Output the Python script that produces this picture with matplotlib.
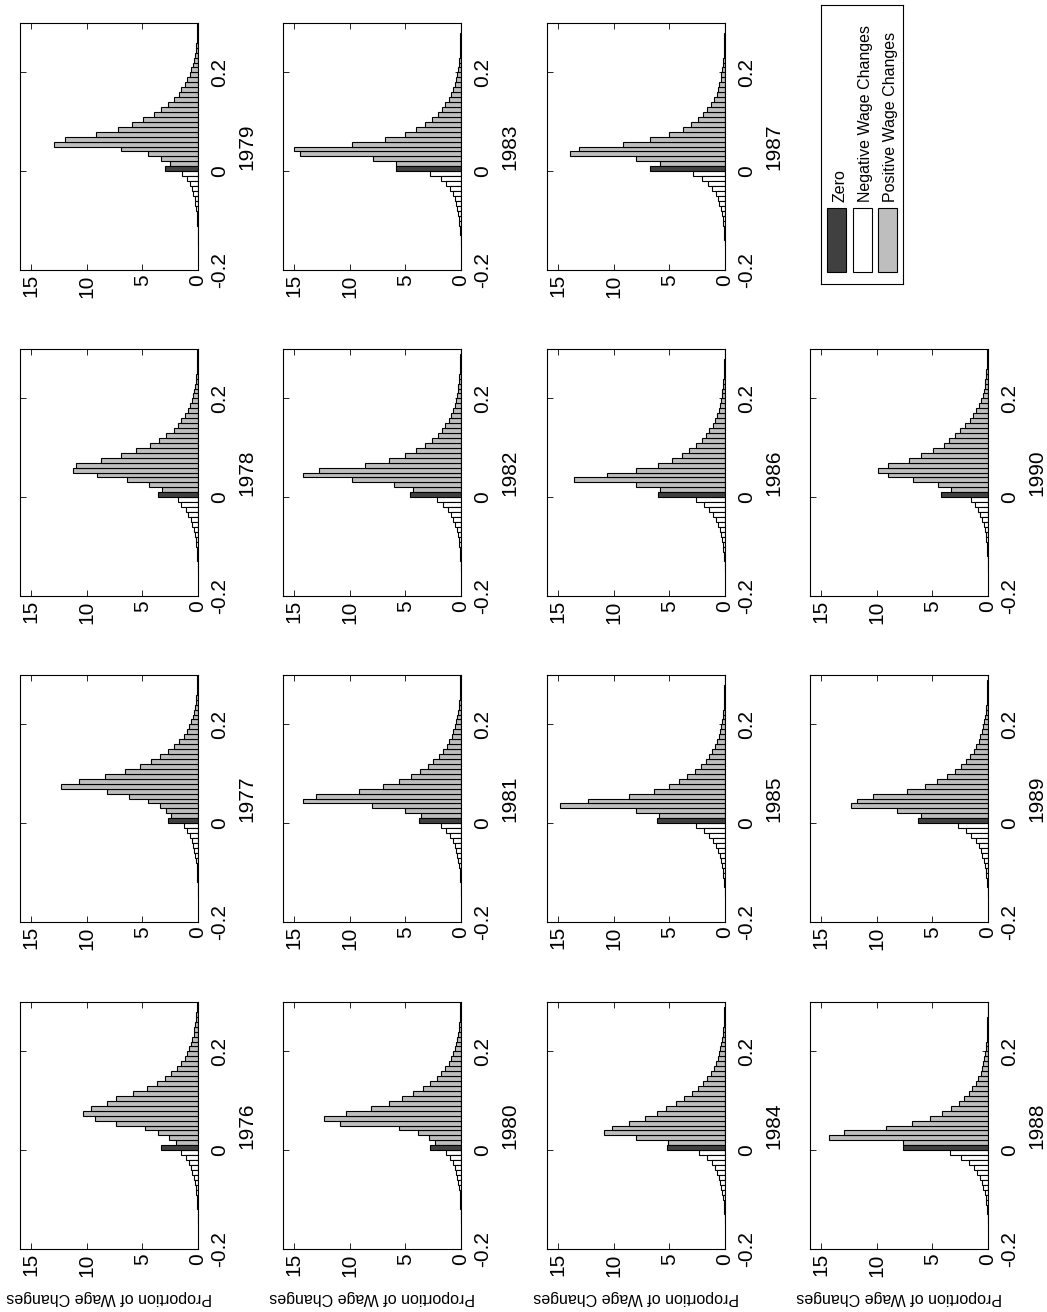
import numpy as np
import matplotlib
matplotlib.use('Agg')
import matplotlib.pyplot as plt
from matplotlib.patches import Rectangle

plt.rcParams['font.family'] = ['Liberation Sans', 'DejaVu Sans']

# share (%) of wage changes that are exactly zero
zero_share = {1976: 3.3, 1977: 2.7, 1978: 3.6, 1979: 3.0, 1980: 2.8, 1981: 3.8,
              1982: 4.6, 1983: 5.8, 1984: 5.2, 1985: 6.1, 1986: 6.0, 1987: 6.7,
              1988: 7.6, 1989: 6.3, 1990: 4.2}

# negative changes, bins from -0.01 outward
neg_share = {
    1976: [1.5, 1.1, 0.85, 0.65, 0.5, 0.38, 0.28, 0.2, 0.15, 0.11, 0.08, 0.06, 0.04, 0.03, 0.02],
    1977: [1.3, 1.0, 0.75, 0.55, 0.42, 0.32, 0.25, 0.18, 0.13, 0.1, 0.07, 0.05, 0.03, 0.02, 0.01],
    1978: [1.8, 1.5, 1.1, 0.9, 0.65, 0.5, 0.36, 0.27, 0.2, 0.15, 0.1, 0.07, 0.05, 0.03, 0.02],
    1979: [1.4, 1.0, 0.75, 0.57, 0.42, 0.3, 0.24, 0.18, 0.12, 0.09, 0.06, 0.04, 0.03, 0.02, 0.01],
    1980: [1.35, 1.0, 0.75, 0.57, 0.42, 0.32, 0.24, 0.18, 0.13, 0.1, 0.07, 0.05, 0.03, 0.02, 0.01],
    1981: [1.8, 1.35, 1.0, 0.75, 0.57, 0.43, 0.32, 0.24, 0.18, 0.13, 0.09, 0.06, 0.04, 0.03, 0.02],
    1982: [2.2, 1.6, 1.2, 0.9, 0.68, 0.5, 0.38, 0.28, 0.2, 0.15, 0.1, 0.07, 0.05, 0.03, 0.02],
    1983: [2.8, 1.8, 1.35, 1.0, 0.75, 0.57, 0.45, 0.36, 0.27, 0.2, 0.15, 0.1, 0.07, 0.04, 0.02],
    1984: [2.3, 1.6, 1.2, 0.9, 0.7, 0.55, 0.42, 0.32, 0.24, 0.18, 0.13, 0.09, 0.06, 0.04, 0.02],
    1985: [2.6, 1.9, 1.4, 1.05, 0.8, 0.63, 0.48, 0.36, 0.27, 0.2, 0.14, 0.1, 0.07, 0.04, 0.02],
    1986: [2.6, 1.9, 1.4, 1.05, 0.8, 0.6, 0.46, 0.35, 0.26, 0.19, 0.14, 0.1, 0.07, 0.04, 0.02],
    1987: [2.9, 2.1, 1.5, 1.15, 0.85, 0.66, 0.5, 0.4, 0.3, 0.22, 0.16, 0.12, 0.08, 0.05, 0.03],
    1988: [3.4, 2.4, 1.7, 1.3, 1.0, 0.75, 0.57, 0.42, 0.3, 0.22, 0.16, 0.11, 0.07, 0.04, 0.02],
    1989: [2.7, 2.0, 1.5, 1.1, 0.85, 0.65, 0.5, 0.38, 0.28, 0.2, 0.15, 0.1, 0.07, 0.04, 0.02],
    1990: [1.55, 1.2, 0.9, 0.7, 0.5, 0.38, 0.28, 0.2, 0.15, 0.11, 0.08, 0.05, 0.03, 0.02, 0.01],
}

# positive changes, bins from 0.01 up to 0.30
pos_share = {
    1976: [2.0, 2.6, 3.6, 4.8, 7.4, 9.3, 10.3, 9.6, 8.2, 7.4, 5.8, 4.6, 3.7, 3.0, 2.4,
           1.9, 1.5, 1.2, 1.0, 0.8, 0.65, 0.5, 0.4, 0.32, 0.25, 0.2, 0.15, 0.12, 0.1],
    1977: [2.4, 2.9, 3.4, 4.5, 6.2, 8.2, 12.3, 10.7, 8.4, 6.6, 5.2, 4.2, 3.4, 2.7, 2.2,
           1.7, 1.3, 1.0, 0.8, 0.6, 0.45, 0.35, 0.28, 0.2, 0.15, 0.12, 0.1, 0.08, 0.06],
    1978: [3.2, 4.4, 6.4, 9.1, 11.2, 11.0, 8.7, 6.9, 5.6, 4.3, 3.5, 2.9, 2.2, 1.8, 1.5,
           1.2, 0.9, 0.7, 0.55, 0.45, 0.35, 0.28, 0.22, 0.17, 0.13, 0.1, 0.08, 0.06, 0.05],
    1979: [2.5, 3.3, 4.5, 6.9, 12.9, 12.0, 9.2, 7.2, 5.9, 4.9, 4.0, 3.3, 2.7, 2.2, 1.7,
           1.5, 1.2, 1.0, 0.7, 0.6, 0.45, 0.35, 0.3, 0.2, 0.15, 0.12, 0.1, 0.08, 0.06],
    1980: [2.3, 2.9, 3.9, 5.6, 10.9, 12.3, 10.3, 8.1, 6.5, 5.3, 4.3, 3.4, 2.8, 2.2, 1.8,
           1.4, 1.1, 0.9, 0.7, 0.55, 0.45, 0.35, 0.28, 0.22, 0.17, 0.13, 0.1, 0.08, 0.06],
    1981: [3.6, 5.0, 8.0, 14.2, 13.0, 9.2, 7.0, 5.6, 4.5, 3.7, 3.0, 2.5, 2.0, 1.6, 1.3,
           1.05, 0.85, 0.7, 0.55, 0.45, 0.35, 0.28, 0.22, 0.17, 0.13, 0.1, 0.08, 0.06, 0.05],
    1982: [4.3, 6.0, 9.8, 14.2, 12.8, 8.6, 6.5, 5.0, 4.0, 3.2, 2.6, 2.1, 1.7, 1.4, 1.1,
           0.9, 0.72, 0.58, 0.46, 0.37, 0.3, 0.24, 0.19, 0.15, 0.12, 0.09, 0.07, 0.05, 0.04],
    1983: [5.8, 7.9, 14.5, 15.0, 9.8, 6.8, 5.0, 4.0, 3.2, 2.6, 2.1, 1.7, 1.4, 1.1, 0.9,
           0.7, 0.55, 0.45, 0.35, 0.28, 0.22, 0.17, 0.13, 0.1, 0.08, 0.06, 0.05, 0.04, 0.03],
    1984: [5.1, 8.0, 10.9, 10.2, 8.6, 7.2, 6.1, 5.3, 4.4, 3.7, 3.0, 2.4, 2.0, 1.6, 1.3,
           1.0, 0.8, 0.65, 0.52, 0.42, 0.33, 0.26, 0.2, 0.16, 0.12, 0.09, 0.07, 0.05, 0.04],
    1985: [5.9, 8.0, 14.8, 12.3, 8.6, 6.4, 5.0, 4.1, 3.4, 2.7, 2.2, 1.75, 1.45, 1.15, 0.9,
           0.7, 0.55, 0.44, 0.35, 0.28, 0.22, 0.17, 0.13, 0.1, 0.08, 0.06, 0.05, 0.04, 0.03],
    1986: [5.8, 8.0, 13.6, 10.6, 8.0, 6.0, 4.8, 3.9, 3.2, 2.6, 2.1, 1.7, 1.4, 1.1, 0.9,
           0.72, 0.58, 0.46, 0.37, 0.3, 0.24, 0.19, 0.15, 0.12, 0.09, 0.07, 0.05, 0.04, 0.03],
    1987: [5.8, 8.0, 13.9, 13.1, 9.2, 6.7, 5.0, 3.8, 3.1, 2.4, 2.0, 1.6, 1.3, 1.0, 0.75,
           0.6, 0.5, 0.4, 0.32, 0.25, 0.2, 0.15, 0.12, 0.1, 0.08, 0.06, 0.05, 0.04, 0.03],
    1988: [7.6, 14.3, 12.9, 9.2, 6.8, 5.2, 4.1, 3.3, 2.6, 2.2, 1.7, 1.4, 1.1, 0.9, 0.66,
           0.52, 0.42, 0.33, 0.26, 0.2, 0.16, 0.12, 0.1, 0.08, 0.06, 0.05, 0.04, 0.03, 0.02],
    1989: [6.0, 8.2, 12.3, 11.8, 10.3, 7.3, 5.7, 4.6, 3.7, 3.0, 2.4, 2.0, 1.6, 1.3, 1.05,
           0.85, 0.68, 0.55, 0.44, 0.35, 0.28, 0.22, 0.17, 0.13, 0.1, 0.08, 0.06, 0.05, 0.04],
    1990: [3.3, 4.5, 6.7, 9.0, 9.9, 9.0, 7.1, 6.0, 4.9, 4.0, 3.5, 3.0, 2.5, 2.1, 1.6,
           1.35, 1.05, 0.8, 0.6, 0.48, 0.38, 0.3, 0.24, 0.19, 0.15, 0.12, 0.09, 0.07, 0.05],
}

bin_w = 0.01
change_ticks = [-0.2, 0, 0.2]
change_labels = ['-0.2', '0', '0.2']
share_ticks = [0, 5, 10, 15]
legend_labels = ['Zero', 'Negative Wage Changes', 'Positive Wage Changes']
ylab = 'Proportion of Wage Changes'

c_zero = '#404040'
c_neg = 'white'
c_pos = '#bebebe'

W, H = 1047, 1312
fig = plt.figure(figsize=(W / 100, H / 100), dpi=100)


def px_axes(l, t, w, h):
    # axes placed in pixel units, measured from the top-left corner
    return fig.add_axes([l / W, 1 - (t + h) / H, w / W, h / H])


# the page is the landscape figure turned a quarter turn counter-clockwise
col_left = [20, 283, 547, 810]
row_top = [23, 349, 675, 1002]
pw, ph = 178, 247
bar_kw = dict(height=bin_w, align='edge', edgecolor='black', linewidth=0.8)

for c in range(4):
    for r in range(4):
        year = 1976 + 4 * c + (3 - r)
        if year > 1990:
            continue
        ax = px_axes(col_left[c], row_top[r], pw, ph)
        neg = neg_share[year]
        pos = pos_share[year]
        ax.barh(-bin_w * np.arange(1, len(neg) + 1), neg, color=c_neg, **bar_kw)
        ax.barh(bin_w * np.arange(1, len(pos) + 1), pos, color=c_pos, **bar_kw)
        ax.barh([0], [zero_share[year]], color=c_zero, **bar_kw)

        ax.set_xlim(16, 0)
        ax.set_ylim(-0.2, 0.3)
        ax.set_xticks(share_ticks)
        ax.set_xticklabels([str(v) for v in share_ticks], rotation=90)
        ax.set_yticks(change_ticks)
        ax.set_yticklabels(change_labels, rotation=90, va='center')
        ax.tick_params(direction='in', length=4, width=0.6, labelsize=15,
                       top=True, bottom=True, left=True, right=True,
                       labelleft=False, labelright=True)
        ax.tick_params(axis='x', pad=3)
        ax.tick_params(axis='y', pad=9)
        for s in ax.spines.values():
            s.set_linewidth(0.8)
        ax.yaxis.set_label_position('right')
        ax.set_ylabel(str(year), rotation=90, fontsize=15, labelpad=6)
        if r == 3:
            ax.set_xlabel(ylab, rotation=180, fontsize=11.5, labelpad=10)

# legend box, drawn by hand so the text can be turned too
lax = px_axes(821, 5, 82, 279)
lax.set_xlim(0, 82)
lax.set_ylim(279, 0)
lax.set_xticks([])
lax.set_yticks([])
for s in lax.spines.values():
    s.set_linewidth(0.8)
for i, (lab, col) in enumerate(zip(legend_labels, [c_zero, c_neg, c_pos])):
    x0 = 6 + 25.5 * i
    lax.add_patch(Rectangle((x0, 203), 19, 64, facecolor=col, edgecolor='black', linewidth=0.8))
    lax.text(x0 + 13, 197, lab, rotation=90, ha='center', va='bottom', fontsize=11.5)

fig.savefig('out.png', dpi=100)
